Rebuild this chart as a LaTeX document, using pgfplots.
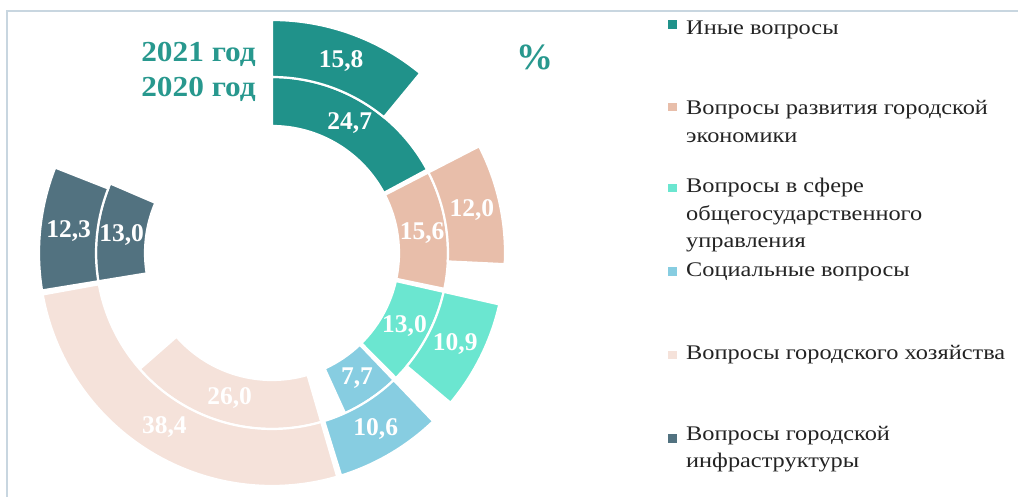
\documentclass[border=0pt]{standalone}
\usepackage{fontspec}
\setmainfont{Liberation Serif}
\usepackage{graphicx}
\usepackage{pgfplots}
\usepackage{pgfplotstable}
\pgfplotsset{compat=1.18}
\definecolor{cA}{RGB}{32,146,138}
\definecolor{cB}{RGB}{232,190,170}
\definecolor{cC}{RGB}{107,230,208}
\definecolor{cD}{RGB}{135,205,225}
\definecolor{cE}{RGB}{245,226,218}
\definecolor{cF}{RGB}{82,114,128}
\definecolor{yeartxt}{RGB}{40,152,142}
\definecolor{framec}{RGB}{200,214,224}
\definecolor{legtxt}{RGB}{35,35,35}

% values in %, inner ring = 2020, outer ring = 2021
\pgfplotstableread{
v2020 v2021 col
24.7 15.8 cA
15.6 12.0 cB
13.0 10.9 cC
7.7 10.6 cD
26.0 38.4 cE
13.0 12.3 cF
}\donut

\def\cx{272}\def\cy{244}
\def\kk{2.5}\def\gg{1.0}
\def\ria{127}\def\roa{176}\def\rib{176}\def\rob{233}

\newcommand\sector[5]{% colour, start, end, r in, r out
  \fill[#1, draw=white, line width=2.2pt, line join=miter]
    ([shift={(#2:#4pt)}]axis cs:\cx,\cy) arc[start angle=#2, end angle=#3, radius=#4pt]
    -- ([shift={(#3:#5pt)}]axis cs:\cx,\cy) arc[start angle=#3, end angle=#2, radius=#5pt]
    -- cycle;}
\newcommand\lab[3]{% angle, radius, value
  \node[text=white, font=\bfseries\fontsize{25.5}{26}\selectfont, inner sep=0pt]
    at ([shift={(#1:#2pt)}]axis cs:\cx,\cy)
    {\pgfmathprintnumber[fixed,fixed zerofill,precision=1,use comma,assume math mode=true]{#3}};}
\newcommand\legfont{\fontsize{20.8}{24}\selectfont}
\newcommand\legmark[2]{\fill[#1] (axis cs:668.3,{497-#2-4.2}) rectangle (axis cs:676.7,{497-#2+4.2});}
\newcommand\legline[2]{\node[anchor=base west, font=\legfont, text=legtxt, inner sep=0pt] at (axis cs:686,{497-#1}) {\scalebox{1.17}[1]{#2}};}

\begin{document}
\begin{tikzpicture}
\begin{axis}[x=1pt,y=1pt,xmin=0,xmax=1018,ymin=0,ymax=497,hide axis,clip=false,at={(0,0)},anchor=origin]
\pgfplotsextra{%
  \draw[framec, line width=1.5pt] (axis cs:7,0) -- (axis cs:7,486) -- (axis cs:1018,486);
  \pgfplotstablegetrowsof{\donut}%
  \pgfmathtruncatemacro\nrows{\pgfplotsretval-1}%
  \gdef\cum{90}%
  \foreach \i in {0,...,\nrows}{%
    \pgfplotstablegetelem{\i}{v2020}\of\donut \let\va\pgfplotsretval
    \pgfplotstablegetelem{\i}{v2021}\of\donut \let\vb\pgfplotsretval
    \pgfplotstablegetelem{\i}{col}\of\donut \let\cc\pgfplotsretval
    \pgfmathsetmacro\s{\cum}%
    \pgfmathsetmacro\ea{\s-\kk*\va}%
    \pgfmathsetmacro\eb{\s-\kk*\vb}%
    \pgfmathsetmacro\nx{\s-\kk*max(\va,\vb)-\gg}%
    \xdef\cum{\nx}%
    \sector{\cc}{\s}{\ea}{\ria}{\roa}
    \sector{\cc}{\s}{\eb}{\rib}{\rob}
    \pgfmathsetmacro\ma{(\s+\ea)/2}%
    \pgfmathsetmacro\mb{(\s+\eb)/2}%
    \pgfmathsetmacro\rma{(\ria+\roa)/2}%
    \pgfmathsetmacro\rmb{(\rib+\rob)/2}%
    \lab{\ma}{\rma}{\va}
    \lab{\mb}{\rmb}{\vb}
  }%
}
\node[anchor=base east, text=yeartxt, font=\bfseries\fontsize{29}{30}\selectfont, inner sep=0pt] at (axis cs:256,435) {\scalebox{1.08}[1]{2021 год}};
\node[anchor=base east, text=yeartxt, font=\bfseries\fontsize{29}{30}\selectfont, inner sep=0pt] at (axis cs:256,400) {\scalebox{1.08}[1]{2020 год}};
\node[anchor=base, text=yeartxt, font=\bfseries\fontsize{37}{38}\selectfont, inner sep=0pt] at (axis cs:535,427) {\%};
\legmark{cA}{24.7}
\legmark{cB}{107}
\legmark{cC}{188}
\legmark{cD}{271.5}
\legmark{cE}{355}
\legmark{cF}{438.5}
\legline{35}{Иные вопросы}
\legline{115}{Вопросы развития городской}
\legline{143}{экономики}
\legline{193}{Вопросы в сфере}
\legline{221}{общегосударственного}
\legline{248}{управления}
\legline{277}{Социальные вопросы}
\legline{360}{Вопросы городского хозяйства}
\legline{441}{Вопросы городской}
\legline{468}{инфраструктуры}
\end{axis}
\pgfresetboundingbox
\path (0,0) rectangle (1018pt,497pt);
\end{tikzpicture}
\end{document}
